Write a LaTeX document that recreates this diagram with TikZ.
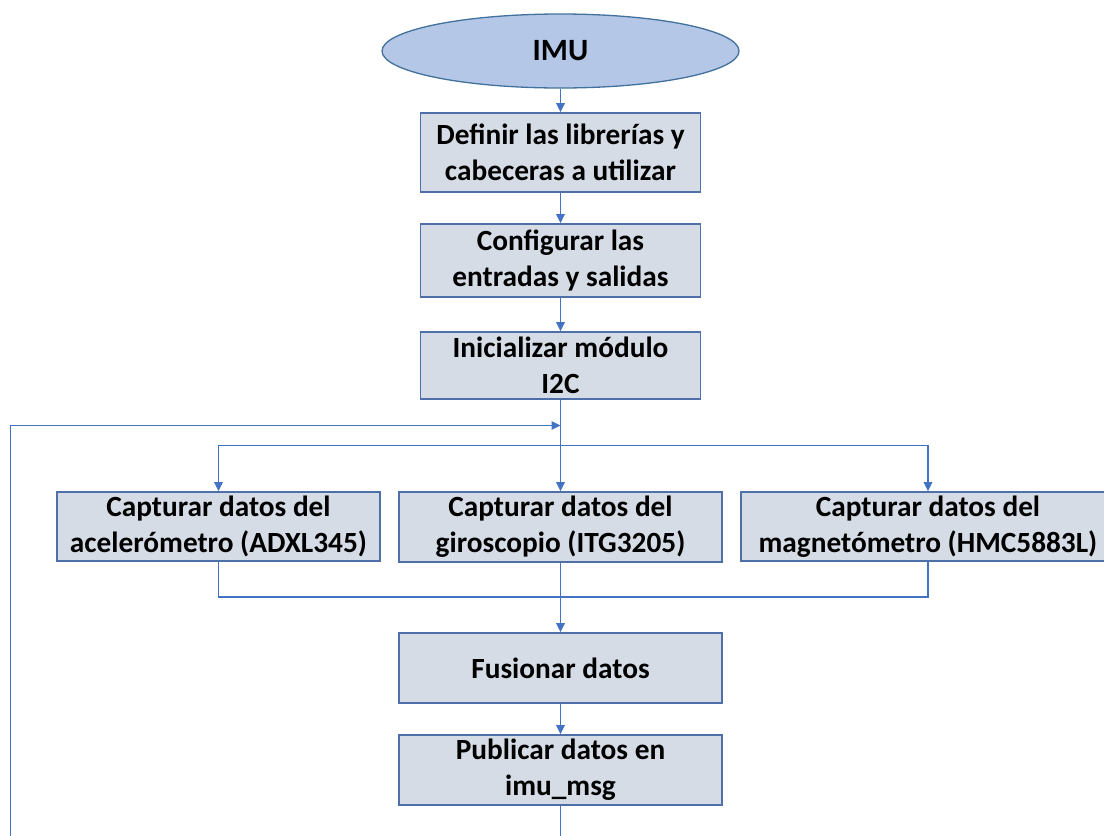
\documentclass[tikz,border=0pt]{standalone}
\usepackage{fontspec}
\setmainfont{Carlito}
\usetikzlibrary{shapes.geometric,arrows.meta}
\definecolor{lineblue}{HTML}{4472C4}
\definecolor{boxline}{HTML}{4F6FA8}
\definecolor{boxfill}{HTML}{D6DCE5}
\definecolor{ellfill}{HTML}{B4C7E7}
\definecolor{ellline}{HTML}{41719C}
\begin{document}
\begin{tikzpicture}[x=1pt,y=-1pt,
  txt/.style={font=\fontsize{29.3}{36}\selectfont\bfseries},
  box/.style={txt, draw=boxline, line width=1.8pt, fill=boxfill, align=center, inner sep=0pt},
  conn/.style={draw=lineblue, line width=1.5pt},
  arr/.style={conn, -{Triangle[length=9pt,width=8.5pt]}}]
\useasboundingbox (0,0) rectangle (1104,836);
\clip (0,0) rectangle (1104,836);
\node[ellipse, draw=ellline, fill=ellfill, line width=1.3pt, minimum width=357pt, minimum height=74pt, inner sep=0pt, font=\fontsize{31}{36}\selectfont\bfseries] (imu) at (560.5,51) {IMU};
\node[box, minimum width=280pt, minimum height=79pt] (b1) at (560.5,152.5) {Definir las librerías y\\cabeceras a utilizar};
\node[box, minimum width=280pt, minimum height=73pt] (b2) at (560.5,260.5) {Configurar las\\entradas y salidas};
\node[box, minimum width=280pt, minimum height=67pt] (b3) at (560.5,365.5) {Inicializar módulo\\I2C};
\node[box, minimum width=323pt, minimum height=69pt] (cA) at (218.5,526.5) {Capturar datos del\\acelerómetro (ADXL345)};
\node[box, minimum width=323pt, minimum height=70pt] (cB) at (560.5,527) {Capturar datos del\\giroscopio (ITG3205)};
\node[box, minimum width=374pt, minimum height=69pt] (cC) at (928,526.5) {Capturar datos del\\magnetómetro (HMC5883L)};
\node[box, minimum width=323pt, minimum height=70pt] (fus) at (560.5,668) {Fusionar datos};
\node[box, minimum width=323pt, minimum height=70pt] (pub) at (560.5,770) {Publicar datos en\\imu\_msg};
\coordinate (j1) at (560.5,425.5);
\coordinate (j2) at (560.5,445.5);
\coordinate (jb) at (560.5,597);
\coordinate (loopL) at (10.5,425.5);
\coordinate (bl) at (10.5,860);
\coordinate (br) at (560.5,860);
\draw[arr] (imu) -- (b1);
\draw[arr] (b1) -- (b2);
\draw[arr] (b2) -- (b3);
\draw[conn] (b3.south) -- (j2);
\draw[arr] (j2) -- (cB.north);
\draw[arr] (j2) -| (cA.north);
\draw[arr] (j2) -| (cC.north);
\draw[conn] (cA.south) |- (jb);
\draw[conn] (cC.south) |- (jb);
\draw[conn] (cB.south) -- (jb);
\draw[arr] (jb) -- (fus.north);
\draw[arr] (fus) -- (pub);
\draw[arr] (pub.south) -- (br) -- (bl) -- (loopL) -- (j1);
\end{tikzpicture}
\end{document}
